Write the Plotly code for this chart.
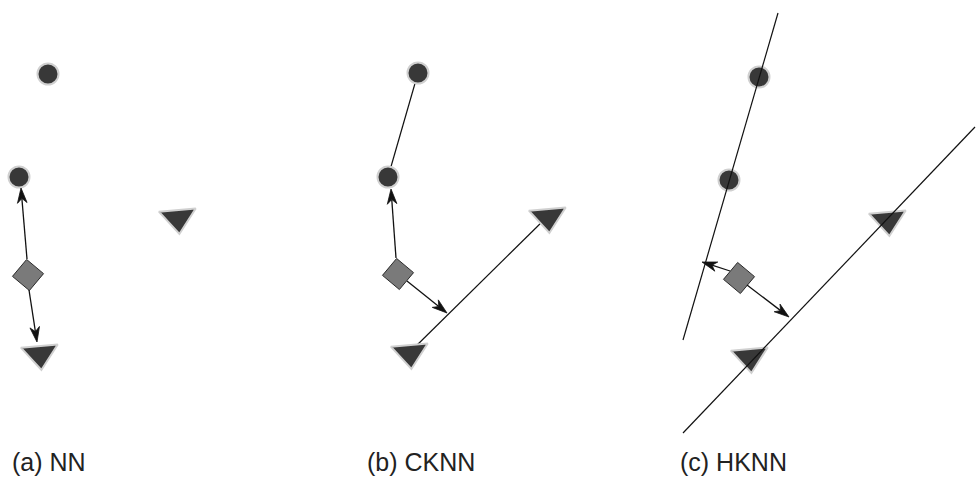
import numpy as np
import plotly.graph_objects as go

# ---- data (pixel-space coordinates) ----
circle_x = [48, 19, 418, 388, 759, 729]
circle_y = [74, 177, 73, 177, 77, 180]

triangle_x = [178, 40, 548, 410, 888, 750]
triangle_y = [218, 354, 217, 353, 220, 357]

diamond_x = [28, 398, 739]
diamond_y = [275, 274, 278]

# panel (b) connecting segments (drawn beneath markers)
b_seg_circles_x = [418, 388]
b_seg_circles_y = [73, 177]
b_seg_tris_x = [410, 548]
b_seg_tris_y = [352, 216]

# panel (c) hull lines (drawn over markers)
c_line1_x = [778, 683]
c_line1_y = [13, 340]
c_line2_x = [975, 683]
c_line2_y = [127, 433]

# arrows: tail -> tip
arrow_tail_x = [27, 29, 396, 407, 730, 747]
arrow_tail_y = [259, 290, 258, 281, 271, 285]
arrow_tip_x = [21, 37, 391, 447, 702, 789]
arrow_tip_y = [188, 342, 189, 313, 262, 317]

labels = ["(a) NN", "(b) CKNN", "(c) HKNN"]
label_x = [10, 365, 678]
label_y = [462, 462, 462]

# arrowhead style (stealth head)
HEAD_LEN = 15.0
HEAD_HALF_W = 4.8
HEAD_NOTCH = 4.5

W, H = 976, 483
fig = go.Figure()

line_style = dict(color="#111111", width=1.2)

for xs, ys in [(b_seg_circles_x, b_seg_circles_y), (b_seg_tris_x, b_seg_tris_y)]:
    fig.add_trace(go.Scatter(x=xs, y=ys, mode="lines", line=line_style,
                             hoverinfo="skip", showlegend=False))

fig.add_trace(go.Scatter(
    x=circle_x, y=circle_y, mode="markers", showlegend=False,
    marker=dict(symbol="circle", size=21, color="#383838",
                line=dict(color="#d0d0d0", width=2))))

fig.add_trace(go.Scatter(
    x=triangle_x, y=triangle_y, mode="markers", showlegend=False,
    marker=dict(symbol="triangle-down", size=32, color="#383838", angle=-5,
                line=dict(color="#d0d0d0", width=2))))

fig.add_trace(go.Scatter(
    x=diamond_x, y=diamond_y, mode="markers", showlegend=False,
    marker=dict(symbol="diamond", size=24, color="#7a7a7a", angle=-5,
                line=dict(color="#2a2a2a", width=1))))

for xs, ys in [(c_line1_x, c_line1_y), (c_line2_x, c_line2_y)]:
    fig.add_trace(go.Scatter(x=xs, y=ys, mode="lines", line=line_style,
                             hoverinfo="skip", showlegend=False))

for tx, ty, hx, hy in zip(arrow_tail_x, arrow_tail_y, arrow_tip_x, arrow_tip_y):
    tail = np.array([tx, ty], float)
    tip = np.array([hx, hy], float)
    d = (tip - tail) / np.linalg.norm(tip - tail)
    n = np.array([-d[1], d[0]])
    base = tip - HEAD_LEN * d
    notch = tip - (HEAD_LEN - HEAD_NOTCH) * d
    fig.add_trace(go.Scatter(
        x=[tail[0], notch[0]], y=[tail[1], notch[1]], mode="lines",
        line=dict(color="#111111", width=1.3), hoverinfo="skip",
        showlegend=False))
    pts = [tip, base + HEAD_HALF_W * n, notch, base - HEAD_HALF_W * n, tip]
    fig.add_trace(go.Scatter(
        x=[p[0] for p in pts], y=[p[1] for p in pts], mode="lines",
        fill="toself", fillcolor="#111111",
        line=dict(color="#111111", width=0.8), hoverinfo="skip",
        showlegend=False))

for t, x, y in zip(labels, label_x, label_y):
    fig.add_annotation(x=x, y=y, text=t, showarrow=False, xanchor="left",
                       yanchor="middle",
                       font=dict(family="Liberation Sans, Arial, sans-serif",
                                 size=25, color="#222222"))

fig.update_layout(
    width=W, height=H, margin=dict(l=0, r=0, t=0, b=0),
    plot_bgcolor="white", paper_bgcolor="white",
    xaxis=dict(range=[0, W], visible=False, fixedrange=True),
    yaxis=dict(range=[H, 0], visible=False, fixedrange=True),
)

fig.write_html("out.html", config={"displayModeBar": False},
               post_script="document.body.style.margin='0';"
                           "document.body.style.overflow='hidden';")
